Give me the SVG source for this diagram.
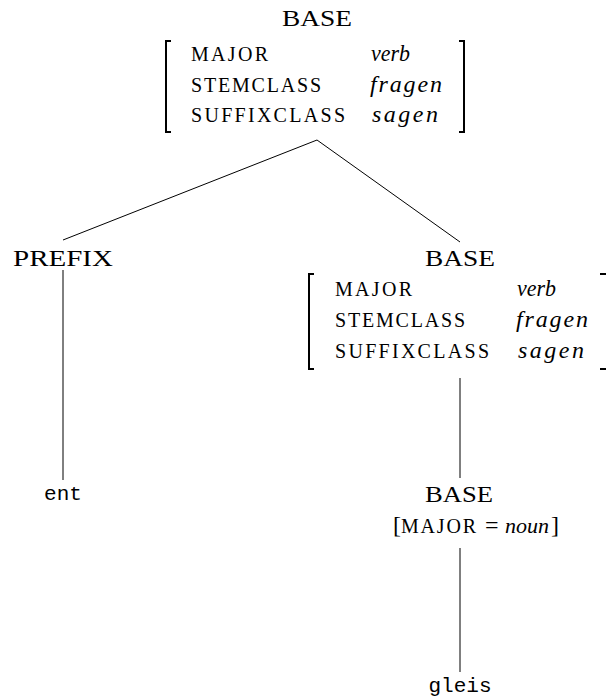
<svg xmlns="http://www.w3.org/2000/svg" width="606" height="699" viewBox="0 0 606 699">
<style>
.lbl{font-family:"Liberation Serif","DejaVu Serif",serif;font-size:24px;fill:#000}
.sc{font-family:"Liberation Serif","DejaVu Serif",serif;font-size:20px;fill:#000}
.it{font-family:"Liberation Serif","DejaVu Serif",serif;font-size:24px;font-style:italic;fill:#000}
.tt{font-family:"Liberation Mono","DejaVu Sans Mono",monospace;font-size:21px;fill:#000}
.br{fill:none;stroke:#000;stroke-width:2}
.edge{fill:none;stroke:#000;stroke-width:1}
</style>
<rect width="606" height="699" fill="#fff"/>
<g id="connectors">
<line class="edge" x1="317" y1="140" x2="63" y2="240"/>
<line class="edge" x1="317" y1="140" x2="460" y2="242"/>
<line class="edge" x1="63" y1="270" x2="63" y2="480"/>
<line class="edge" x1="460" y1="378" x2="460" y2="478"/>
<line class="edge" x1="460" y1="548" x2="460" y2="672"/>
</g>
<g id="base-top">
<text class="lbl" x="317" y="26" text-anchor="middle" textLength="70" lengthAdjust="spacingAndGlyphs">BASE</text>
<path class="br" d="M171,41 H166 V132 H171"/>
<path class="br" d="M459,41 H464 V132 H459"/>
<text class="sc" x="191" y="61" textLength="77" lengthAdjust="spacing">MAJOR</text>
<text class="sc" x="191" y="92" textLength="130" lengthAdjust="spacing">STEMCLASS</text>
<text class="sc" x="191" y="122" textLength="154" lengthAdjust="spacing">SUFFIXCLASS</text>
<text class="it" x="371" y="61" textLength="39" lengthAdjust="spacingAndGlyphs">verb</text>
<text class="it" x="370" y="92" textLength="72" lengthAdjust="spacing">fragen</text>
<text class="it" x="372" y="122" textLength="66" lengthAdjust="spacing">sagen</text>
</g>
<g id="prefix">
<text class="lbl" x="63" y="266" text-anchor="middle" textLength="100" lengthAdjust="spacingAndGlyphs">PREFIX</text>
</g>
<g id="base-mid">
<text class="lbl" x="460" y="266" text-anchor="middle" textLength="70" lengthAdjust="spacingAndGlyphs">BASE</text>
<path class="br" d="M314,274 H309 V369 H314"/>
<path class="br" d="M600,274 H607 V369 H600"/>
<text class="sc" x="335" y="296" textLength="77" lengthAdjust="spacing">MAJOR</text>
<text class="sc" x="335" y="327" textLength="130" lengthAdjust="spacing">STEMCLASS</text>
<text class="sc" x="335" y="358" textLength="154" lengthAdjust="spacing">SUFFIXCLASS</text>
<text class="it" x="517" y="296" textLength="39" lengthAdjust="spacingAndGlyphs">verb</text>
<text class="it" x="516" y="327" textLength="72" lengthAdjust="spacing">fragen</text>
<text class="it" x="518" y="358" textLength="66" lengthAdjust="spacing">sagen</text>
</g>
<g id="ent">
<text class="tt" x="63" y="500" text-anchor="middle">ent</text>
</g>
<g id="base-low">
<text class="lbl" x="459" y="502" text-anchor="middle" textLength="68" lengthAdjust="spacingAndGlyphs">BASE</text>
<text class="lbl" x="393" y="533">[<tspan x="401" style="font-size:20px;letter-spacing:1.8px">MAJOR</tspan><tspan x="485">=</tspan><tspan x="505" style="font-style:italic;font-size:22px">noun</tspan><tspan x="551">]</tspan></text>
</g>
<g id="gleis">
<text class="tt" x="460" y="692" text-anchor="middle">gleis</text>
</g>
</svg>
